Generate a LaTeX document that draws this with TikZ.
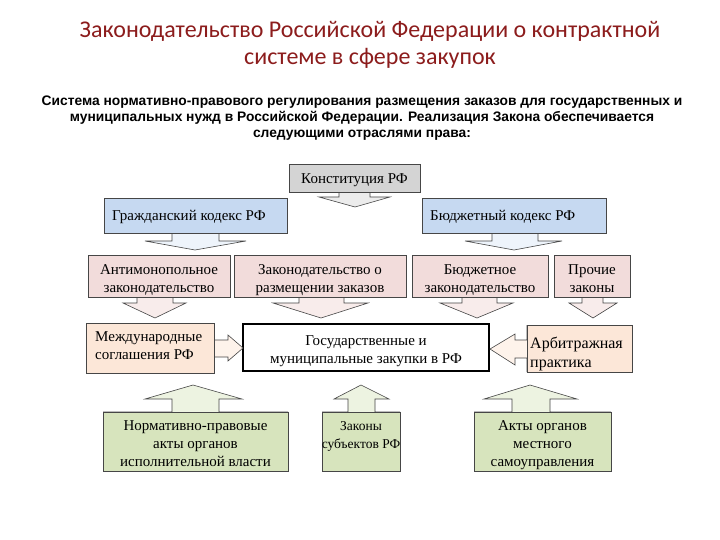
\documentclass[tikz,border=0pt]{standalone}
\usepackage{fontspec}
\setmainfont{Liberation Serif}
\newfontfamily\titlefont{Carlito}
\newfontfamily\subfont{Liberation Sans}
\definecolor{titlered}{RGB}{140,28,28}
\definecolor{cgrey}{RGB}{212,212,212}
\definecolor{cblue}{RGB}{198,217,241}
\definecolor{cpink}{RGB}{242,220,219}
\definecolor{cpeach}{RGB}{252,231,216}
\definecolor{cgreen}{RGB}{215,228,189}
\definecolor{edge}{RGB}{70,70,70}
\tikzset{
  callout/.style={draw=edge, line width=0.6pt, line join=miter},
  boxtext/.style={font=\fontsize{15}{18}\selectfont, inner sep=0pt, align=center},
  lefttext/.style={font=\fontsize{15}{18}\selectfont, inner sep=0pt, align=left, anchor=west},
}
\begin{document}
\begin{tikzpicture}[x=1pt,y=-1pt]
\useasboundingbox (0,0) rectangle (720,540);
\fill[white] (0,0) rectangle (720,540);

% title
\node[font=\titlefont\fontsize{24}{27}\selectfont, text=titlered, align=center] (title) at (370,45)
  {Законодательство Российской Федерации о контрактной\\системе в сфере закупок};
\node[font=\subfont\bfseries\fontsize{13.8}{16}\selectfont, align=center] (sub) at (362,118)
  {Система нормативно-правового регулирования размещения заказов для государственных и\\
   муниципальных нужд в Российской Федерации. Реализация Закона обеспечивается\\
   следующими отраслями права:};

% Constitution (down callout)
\filldraw[callout, fill=cgrey!45] (289,192) -- (339,192) -- (339,197) -- (319,197) -- (355,207) -- (390,197) -- (370,197) -- (370,192) -- (420,192);
\filldraw[callout, fill=cgrey] (289,164) rectangle (420,192);
\node[boxtext] (konst) at (354.5,180) {\strut Конституция РФ};

% Civil code
\filldraw[callout, fill=cblue!30] (104,233) -- (172,233) -- (172,241) -- (145,241) -- (195,250) -- (246,241) -- (219,241) -- (219,233) -- (287,233);
\filldraw[callout, fill=cblue] (104,198) rectangle (287,233);
\node[lefttext] (civ) at (112,216.5) {\strut Гражданский кодекс РФ};

% Budget code
\filldraw[callout, fill=cblue!30] (422,233) -- (492,233) -- (492,241) -- (465,241) -- (514,250) -- (562,241) -- (538,241) -- (538,233) -- (606,233);
\filldraw[callout, fill=cblue] (422,198) rectangle (606,233);
\node[lefttext] (bud) at (430,216.5) {\strut Бюджетный кодекс РФ};

% pink row
\filldraw[callout, fill=cpink!55] (88,297) -- (137,297) -- (137,303) -- (123,303) -- (155,318) -- (186,303) -- (173,303) -- (173,297) -- (230,297);
\filldraw[callout, fill=cpink] (88,255) rectangle (230,297);
\node[boxtext] (anti) at (159,279.5) {\strut Антимонопольное\\\strut законодательство};

\filldraw[callout, fill=cpink!55] (234,297) -- (299,297) -- (299,303) -- (273,303) -- (321,318) -- (368,303) -- (344,303) -- (344,297) -- (406,297);
\filldraw[callout, fill=cpink] (234,255) rectangle (406,297);
\node[boxtext] (razm) at (320,279.5) {\strut Законодательство о\\\strut размещении заказов};

\filldraw[callout, fill=cpink!55] (412,297) -- (462,297) -- (462,303) -- (440,303) -- (477,318) -- (513,303) -- (497,303) -- (497,297) -- (548,297);
\filldraw[callout, fill=cpink] (412,255) rectangle (548,297);
\node[boxtext] (budz) at (480,279.5) {\strut Бюджетное\\\strut законодательство};

\filldraw[callout, fill=cpink!55] (554,297) -- (582,297) -- (582,303) -- (569,303) -- (593,318) -- (617,303) -- (603,303) -- (603,297) -- (630,297);
\filldraw[callout, fill=cpink] (554,255) rectangle (630,297);
\node[boxtext] (proch) at (592,279.5) {\strut Прочие\\\strut законы};

% central box
\draw[line width=2.6pt] (243,324) rectangle (489,371);
\node[boxtext] (center) at (366,350.5) {\strut Государственные и\\\strut муниципальные закупки в РФ};

% left callout
\filldraw[callout, fill=cpeach!50] (214,323) -- (214,340) -- (228,340) -- (228,335) -- (243,348) -- (228,361) -- (228,357) -- (214,357) -- (214,373);
\filldraw[callout, fill=cpeach] (86,323) rectangle (214,373);
\node[lefttext] (mezh) at (95,347) {\parbox{120pt}{\strut Международные\\\strut соглашения РФ}};

% right callout
\filldraw[callout, fill=cpeach!50] (527,325) -- (527,340) -- (515,340) -- (515,334) -- (490,349) -- (515,365) -- (515,358) -- (527,358) -- (527,372);
\filldraw[callout, fill=cpeach] (527,325) rectangle (632,372);
\node[lefttext, font=\fontsize{16}{19}\selectfont] (arb) at (530,354.5) {\parbox{100pt}{\strut Арбитражная\\\strut практика}};

% green row (up callouts)
\filldraw[callout, fill=cgreen!45] (103,412) -- (172,412) -- (172,399) -- (145,399) -- (193,385) -- (242,399) -- (219,399) -- (219,412) -- (288,412);
\filldraw[callout, fill=cgreen] (103,412) rectangle (288,471);
\node[boxtext] (norm) at (195.5,444.5) {\strut Нормативно-правовые\\\strut акты органов\\\strut исполнительной власти};

\filldraw[callout, fill=cgreen!45] (322,412) -- (348,412) -- (348,399) -- (334,399) -- (361,385) -- (389,399) -- (375,399) -- (375,412) -- (400,412);
\filldraw[callout, fill=cgreen] (322,412) rectangle (400,471);
\node[boxtext, font=\fontsize{13.5}{18}\selectfont] (zak) at (361,435.5) {\strut Законы\\\strut субъектов РФ};

\filldraw[callout, fill=cgreen!45] (474,412) -- (512,412) -- (512,399) -- (484,399) -- (530,385) -- (577,399) -- (550,399) -- (550,412) -- (611,412);
\filldraw[callout, fill=cgreen] (474,412) rectangle (611,471);
\node[boxtext] (akty) at (542.5,444.5) {\strut Акты органов\\\strut местного\\\strut самоуправления};

\end{tikzpicture}
\end{document}
